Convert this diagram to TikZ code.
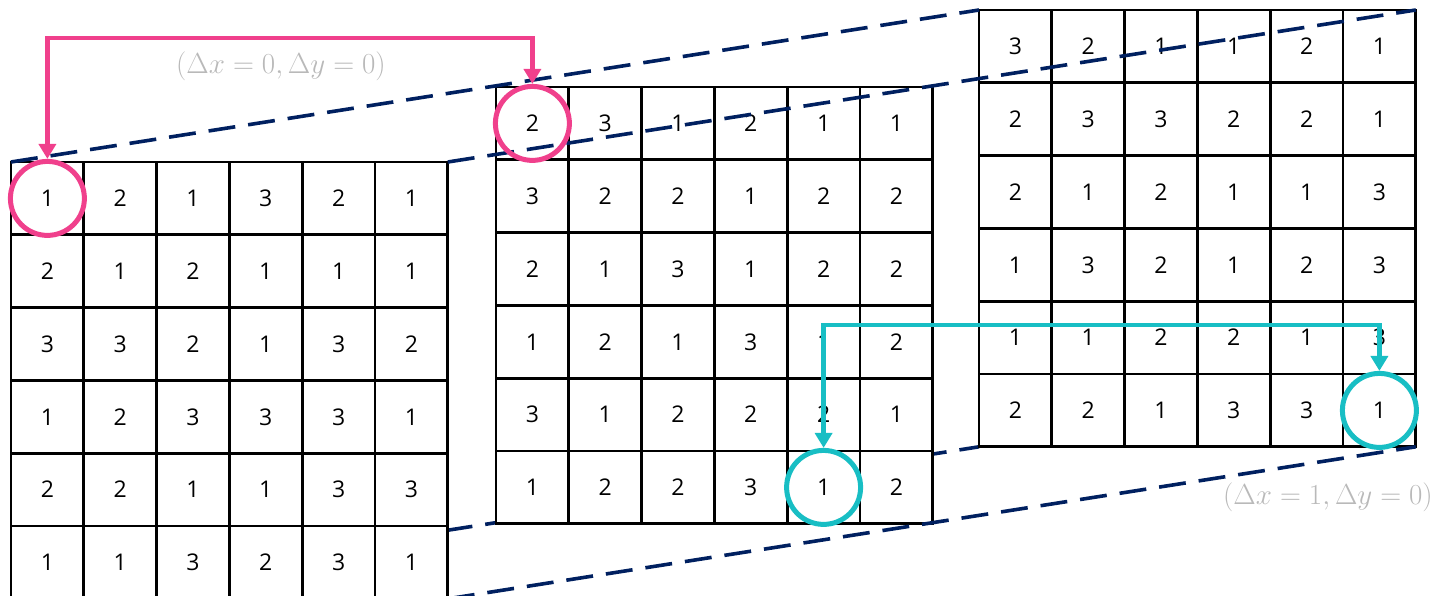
\RequirePackage{fix-cm}
\documentclass[tikz,border=0pt]{standalone}
\usepackage{fontspec}
\setsansfont{Open Sans}
\usetikzlibrary{arrows.meta}
\definecolor{navy}{RGB}{0,32,96}
\definecolor{pinkc}{RGB}{240,64,140}
\definecolor{tealc}{RGB}{24,190,196}
\definecolor{labgray}{RGB}{185,185,185}
\newcommand\mygrid[4]{%
  \foreach \row [count=\r] in {#4} {
    \foreach \v [count=\c] in \row {
      \node[cell] (#1-\r-\c) at ({#2+72.8*\c-36.4},{#3+72.8*\r-36.4}) {\v};
    }
  }
}
\begin{document}
\begin{tikzpicture}[x=1pt,y=-1pt,
  cell/.style={draw=black,line width=2.8pt,fill=white,minimum size=72.8pt,inner sep=0pt,outer sep=0pt,
    font=\sffamily\fontsize{23}{23}\selectfont,text depth=-2pt},
  gridbox/.style={minimum size=436.8pt,inner sep=0pt,outer sep=0pt,anchor=north west},
  dashline/.style={draw=navy,line width=3.6pt,dash pattern=on 27pt off 13pt},
  pcirc/.style={circle,draw=pinkc,line width=5pt,minimum size=74pt,inner sep=0pt},
  tcirc/.style={circle,draw=tealc,line width=5pt,minimum size=74pt,inner sep=0pt},
  parrow/.style={draw=pinkc,line width=4.8pt,arrows={Triangle[length=15pt,width=17pt]-Triangle[length=15pt,width=17pt]}},
  tarrow/.style={draw=tealc,line width=4.8pt,arrows={Triangle[length=15pt,width=17pt]-Triangle[length=15pt,width=17pt]}},
  lab/.style={text=labgray,font=\fontsize{29}{29}\selectfont,inner sep=0pt}]
\useasboundingbox (0,0) rectangle (1435,596);
\clip (0,0) rectangle (1435,596);
% grid outlines (positions)
\node[gridbox] (L) at (11,162) {};
\node[gridbox] (M) at (496,87) {};
\node[gridbox] (R) at (979,10) {};
% hidden dashed line behind grids
\draw[dashline] (L.south west) -- (R.south west);
% grids
\mygrid{L}{11}{162}{{1,2,1,3,2,1},{2,1,2,1,1,1},{3,3,2,1,3,2},{1,2,3,3,3,1},{2,2,1,1,3,3},{1,1,3,2,3,1}}
\mygrid{M}{496}{87}{{2,3,1,2,1,1},{3,2,2,1,2,2},{2,1,3,1,2,2},{1,2,1,3,1,2},{3,1,2,2,2,1},{1,2,2,3,1,2}}
\mygrid{R}{979}{10}{{3,2,1,1,2,1},{2,3,3,2,2,1},{2,1,2,1,1,3},{1,3,2,1,2,3},{1,1,2,2,1,3},{2,2,1,3,3,1}}
% dashed projection lines
\draw[dashline] (L.north west) -- (R.north west);
\draw[dashline] (L.north east) -- (R.north east);
\draw[dashline] (L.south east) -- (R.south east);
% circles
\node[pcirc] (pa) at (L-1-1) {};
\node[pcirc] (pb) at (M-1-1) {};
\node[tcirc] (ta) at (M-6-5) {};
\node[tcirc] (tb) at (R-6-6) {};
% arrows
\coordinate (pk) at (0,38);
\coordinate (tk) at (0,325);
\draw[parrow] (pa.north) -- (pa.north |- pk) -| (pb.north);
\draw[tarrow] (ta.north) -- (ta.north |- tk) -| (tb.north);
% labels
\node[lab] (la) at (281,66) {$(\Delta x=0,\Delta y=0)$};
\node[lab] (lb) at (1328,497) {$(\Delta x=1,\Delta y=0)$};
\end{tikzpicture}
\end{document}
